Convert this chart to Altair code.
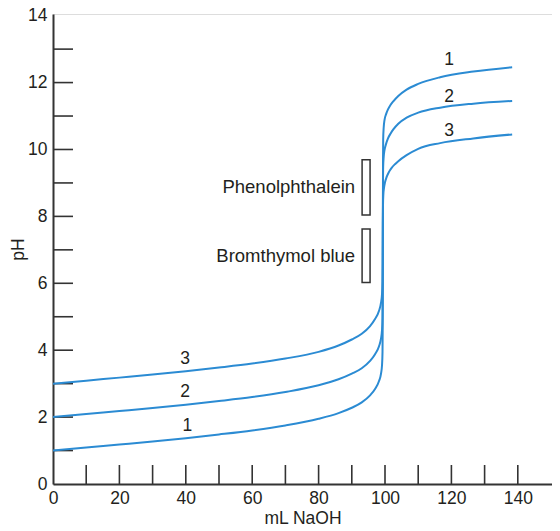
import altair as alt
import pandas as pd

# ---- data ----
ml_1 = [0, 10, 20, 30, 40, 50, 60, 70, 80, 86, 90, 93, 95.5, 97, 98.2, 98.8, 99.1, 99.25, 99.3, 99.35, 99.4,
        99.45, 99.6, 99.85, 100.3, 100.9, 101.6, 102.5, 104, 106.5, 110, 116.6, 126.6, 138.3]
ph_1 = [1.00, 1.09, 1.18, 1.27, 1.37, 1.48, 1.60, 1.75, 1.95, 2.12, 2.28, 2.44, 2.65, 2.84, 3.08, 3.30, 3.55, 3.95, 4.60, 7.00, 9.60,
        10.30, 10.65, 10.88, 11.05, 11.20, 11.32, 11.44, 11.60, 11.79, 11.96, 12.16, 12.33, 12.46]

ml_2 = [0, 10, 20, 30, 40, 50, 60, 70, 80, 86, 90, 93, 95.5, 97, 98.2, 98.8, 99.1, 99.25, 99.3, 99.35, 99.4,
        99.45, 99.6, 99.85, 100.3, 100.9, 101.7, 102.5, 104, 106.5, 110, 116.6, 126.6, 138.3]
ph_2 = [2.00, 2.09, 2.18, 2.27, 2.37, 2.48, 2.60, 2.75, 2.95, 3.13, 3.30, 3.46, 3.68, 3.88, 4.12, 4.35, 4.60, 4.98, 5.50, 7.50, 9.00,
        9.50, 9.78, 9.98, 10.16, 10.33, 10.48, 10.60, 10.77, 10.95, 11.10, 11.25, 11.37, 11.45]

ml_3 = [0, 10, 20, 30, 40, 50, 60, 70, 80, 86, 90, 93, 95.5, 97, 98.2, 98.8, 99.1, 99.25, 99.3, 99.35, 99.4,
        99.5, 99.7, 100, 100.5, 101.2, 102, 103, 104, 106.5, 110, 116.6, 126.6, 138.3]
ph_3 = [3.00, 3.09, 3.18, 3.27, 3.37, 3.48, 3.60, 3.75, 3.95, 4.14, 4.32, 4.49, 4.72, 4.93, 5.18, 5.42, 5.68, 6.05, 6.60, 7.80, 8.35,
        8.65, 8.85, 9.02, 9.18, 9.33, 9.45, 9.56, 9.65, 9.83, 10.02, 10.19, 10.33, 10.45]

# curve number labels
label_text = ["1", "2", "3", "3", "2", "1"]
label_ml = [119.3, 119.3, 119.3, 39.8, 39.8, 40.5]
label_ph = [12.68, 11.57, 10.56, 3.73, 2.76, 1.74]

# indicator ranges
indicators = ["Phenolphthalein", "Bromthymol blue"]
ind_low = [8.04, 6.02]
ind_high = [9.69, 7.62]
ind_ml_left = [93.1, 93.1]
ind_ml_right = [95.5, 95.5]
ind_text_ml = [91.0, 91.0]

x_ticks = [10, 20, 30, 40, 50, 60, 70, 80, 90, 100, 110, 120, 130, 140]
x_labels = [0, 20, 40, 60, 80, 100, 120, 140]
y_ticks = [1, 2, 3, 4, 5, 6, 7, 8, 9, 10, 11, 12, 13]
y_labels = [0, 2, 4, 6, 8, 10, 12, 14]

# ---- build tables ----
curves = pd.concat([
    pd.DataFrame({"ml": ml_1, "ph": ph_1, "curve": "1"}),
    pd.DataFrame({"ml": ml_2, "ph": ph_2, "curve": "2"}),
    pd.DataFrame({"ml": ml_3, "ph": ph_3, "curve": "3"}),
], ignore_index=True)
labels = pd.DataFrame({"t": label_text, "ml": label_ml, "ph": label_ph})
ind = pd.DataFrame({"name": indicators, "lo": ind_low, "hi": ind_high,
                    "x1": ind_ml_left, "x2": ind_ml_right, "tx": ind_text_ml,
                    "mid": [(a + b) / 2 for a, b in zip(ind_low, ind_high)]})
xt = pd.DataFrame({"v": x_ticks})
yt = pd.DataFrame({"v": y_ticks})

W, H = 499, 470
FONT = "Liberation Sans"
FS = 17.5
FS_ANN = 18.5
DARK = "#231f20"
BLUE = "#2b8bd3"

xs = alt.Scale(domain=[0, 150.3], nice=False, zero=False)
ys = alt.Scale(domain=[0, 14.05], nice=False, zero=False)

xaxis = alt.Axis(values=x_labels, ticks=False, tickSize=0, grid=False, labelPadding=5,
                 domainColor="#333333", domainWidth=2, labelFont=FONT, labelFontSize=FS,
                 labelColor=DARK, title="mL NaOH", titleFont=FONT, titleFontSize=FS,
                 titleFontWeight="normal", titleColor=DARK, titlePadding=3, labelFlush=False)
yaxis = alt.Axis(values=y_labels, ticks=False, tickSize=0, grid=False, labelPadding=6,
                 domainColor="#333333", domainWidth=2, labelFont=FONT, labelFontSize=FS,
                 labelColor=DARK, title="pH", titleFont=FONT, titleFontSize=FS,
                 titleFontWeight="normal", titleColor=DARK, titlePadding=0, labelFlush=False)

lines = alt.Chart(curves).mark_line(strokeWidth=2, interpolate="monotone", color=BLUE).encode(
    x=alt.X("ml:Q", scale=xs, axis=xaxis),
    y=alt.Y("ph:Q", scale=ys, axis=yaxis),
    detail="curve:N",
    order="ml:Q",
)

xtick_rules = alt.Chart(xt).mark_rule(color="#333333", strokeWidth=1.6).encode(
    x=alt.X("v:Q", scale=xs), y=alt.value(H - 19), y2=alt.value(H))
ytick_rules = alt.Chart(yt).mark_rule(color="#333333", strokeWidth=1.6).encode(
    y=alt.Y("v:Q", scale=ys), x=alt.value(0), x2=alt.value(20))

boxes = alt.Chart(ind).mark_rect(fill="white", fillOpacity=0, stroke="#333333", strokeWidth=1.5).encode(
    x=alt.X("x1:Q", scale=xs), x2="x2:Q", y=alt.Y("lo:Q", scale=ys), y2="hi:Q")
ind_text = alt.Chart(ind).mark_text(align="right", baseline="middle", font=FONT, fontSize=FS_ANN,
                                    color=DARK).encode(
    x=alt.X("tx:Q", scale=xs), y=alt.Y("mid:Q", scale=ys), text="name:N")

curve_labels = alt.Chart(labels).mark_text(align="center", baseline="middle", font=FONT,
                                           fontSize=FS, color=DARK).encode(
    x=alt.X("ml:Q", scale=xs), y=alt.Y("ph:Q", scale=ys), text="t:N")

chart = alt.layer(xtick_rules, ytick_rules, boxes, ind_text, curve_labels, lines).properties(
    width=W, height=H,
    autosize=alt.AutoSizeParams(type="none"),
    padding={"left": 45, "top": 6, "right": 0, "bottom": 46},
).configure_view(stroke=None).configure(background="white")

chart.save("out.html", embed_options={"renderer": "svg", "actions": False})
